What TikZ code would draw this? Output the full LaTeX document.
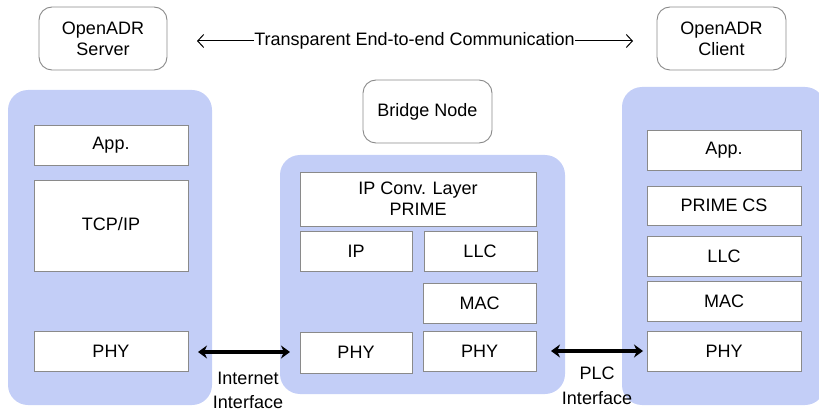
\documentclass[tikz,border=0pt]{standalone}
\usepackage{fontspec}
\setmainfont{Liberation Sans}
\usetikzlibrary{arrows.meta}
\definecolor{panelblue}{HTML}{C3CEF7}
\definecolor{boxgray}{HTML}{8A8A8A}
\begin{document}
\begin{tikzpicture}[x=1pt,y=-1pt,
  font=\fontsize{18}{21}\selectfont,
  panel/.style={fill=panelblue,draw=none,rounded corners=20pt},
  layer/.style={draw=boxgray,fill=white,line width=0.9pt},
  entity/.style={draw=boxgray,fill=white,line width=0.9pt,rounded corners=13pt},
  link/.style={line width=3.4pt,{Stealth[length=9pt,width=13pt]}-{Stealth[length=9pt,width=13pt]}},
  e2e/.style={line width=1pt,{Straight Barb[length=6pt,width=13pt]}-{Straight Barb[length=6pt,width=13pt]}}]
\useasboundingbox (0,0) rectangle (819,414);

% protocol stack panels
\fill[panel] (8,90) rectangle (212,405);
\fill[panel] (280,155) rectangle (565,394);
\fill[panel] (622,87) rectangle (825,405);

% top-level entities
\draw[entity] (39,7) rectangle (167,70);
\node[align=center] (server) at (103,38.5) {OpenADR\\Server};
\draw[entity] (657,7) rectangle (786,70);
\node[align=center] (client) at (721.5,38.5) {OpenADR\\Client};
\draw[entity] (363,80) rectangle (492,143);
\node (bridge) at (427.5,111.5) {Bridge Node};

% end-to-end arrow, label sitting on the line
\coordinate (e2eL) at (197,41);
\coordinate (e2eR) at (633,41);
\draw[e2e] (e2eL) -- (e2eR);
\node[fill=white,inner sep=0.5pt] (e2etext) at (414.5,41) {Transparent End-to-end Communication};

% server stack
\draw[layer] (34,125) rectangle (188,165);
\node (sapp) at (111,145) {App.};
\draw[layer] (34,180) rectangle (188,271);
\node (stcp) at (111,224) {TCP/IP};
\draw[layer] (34,331) rectangle (188,371);
\node (sphy) at (111,351) {PHY};

% bridge stack
\draw[layer] (300,172) rectangle (536,226);
\node[align=center] (bconv) at (418,199) {IP Conv. Layer\\PRIME};
\draw[layer] (300,231) rectangle (412,271);
\node (bip) at (356,251) {IP};
\draw[layer] (424,231) rectangle (537,271);
\node (bllc) at (480,251) {LLC};
\draw[layer] (423,283) rectangle (536,323);
\node (bmac) at (479.5,303) {MAC};
\draw[layer] (300,332) rectangle (412,373);
\node (bphyA) at (356,352.5) {PHY};
\draw[layer] (423,331) rectangle (536,371);
\node (bphyB) at (479.5,351) {PHY};

% client stack
\draw[layer] (647,130) rectangle (801,170);
\node (capp) at (724,150) {App.};
\draw[layer] (647,186) rectangle (801,225);
\node (ccs) at (724,205.5) {PRIME CS};
\draw[layer] (647,236) rectangle (801,276);
\node (cllc) at (724,256) {LLC};
\draw[layer] (647,281) rectangle (801,321);
\node (cmac) at (724,301) {MAC};
\draw[layer] (647,331) rectangle (801,371);
\node (cphy) at (724,351) {PHY};

% physical links
\coordinate (inetL) at (198,352);
\coordinate (inetR) at (290,352);
\draw[link] (inetL) -- (inetR);
\node[align=center,font=\fontsize{18}{24}\selectfont] (inet) at (248,390) {Internet\\Interface};
\coordinate (plcL) at (551,351);
\coordinate (plcR) at (643,351);
\draw[link] (plcL) -- (plcR);
\node[align=center,font=\fontsize{18}{25}\selectfont] (plc) at (597,385.5) {PLC\\Interface};
\end{tikzpicture}
\end{document}
